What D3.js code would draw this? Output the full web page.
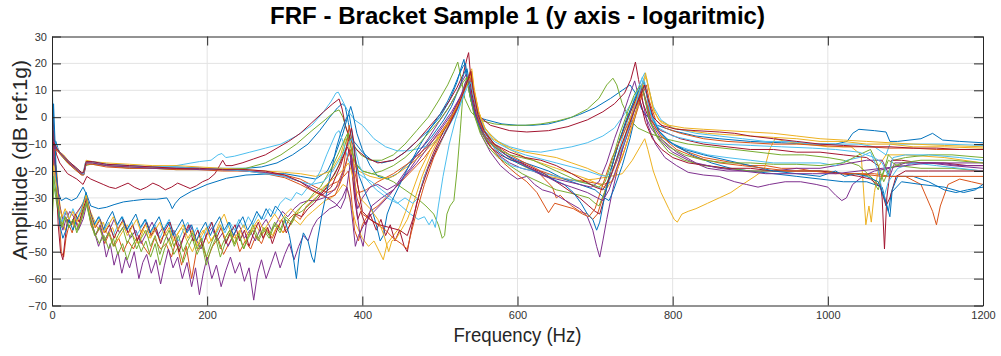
<!DOCTYPE html>
<html>
<head>
<meta charset="utf-8">
<script src="https://cdn.jsdelivr.net/npm/d3@7/dist/d3.min.js"></script>
<style>
  body { margin: 0; background: #fff; }
  text { font-family: "Liberation Sans", Arial, Helvetica, sans-serif; }
</style>
</head>
<body>
<svg id="chart" width="1001" height="356"></svg>
<script>
// axis ticks
const xTicks = [0, 200, 400, 600, 800, 1000, 1200];
const yTicks = [-70, -60, -50, -40, -30, -20, -10, 0, 10, 20, 30];

// matlab default colour order
const lineColors = ['#0072BD', '#D95319', '#EDB120', '#7E2F8E', '#77AC30', '#4DBEEE', '#A2142F'];

// FRF curves, [frequency Hz, amplitude dB]
const c01 = [[0,-30],[2,-10],[5,-9],[8,-12],[12,-14],[18,-16],[26,-18],[34,-20],[40,-21],[43,-17],[50,-16.5],[70,-17.5],[100,-18],[130,-18.5],[160,-18.5],[190,-19],[220,-19],[250,-19],[270,-18.5],[290,-17],[310,-14],[330,-10],[345,-5],[358,0],[368,3.5],[374,5],[378,4],[382,-2],[386,-8],[392,-10],[400,-13],[412,-16],[425,-17],[440,-16],[455,-13],[470,-9],[485,-5],[500,0],[512,6],[522,13],[528,19],[531,21.5],[534,15],[540,6],[548,0],[560,-1],[580,-2.5],[600,-3],[620,-3],[640,-2.5],[660,-1],[680,1],[700,3.5],[720,7],[735,10],[745,12],[752,9],[760,3],[768,0],[780,-3],[800,-5],[830,-7],[860,-8],[900,-9],[940,-9.5],[980,-10],[1010,-10],[1025,-9],[1032,-6],[1040,-4.5],[1060,-5],[1075,-5.5],[1080,-9],[1090,-9],[1120,-8],[1135,-6],[1148,-8.5],[1170,-9],[1200,-9.5]];
const c02 = [[0,-25],[3,-15],[6,-20],[9,-35],[12,-50],[15,-52],[18,-45],[22,-40],[26,-43],[30,-38],[35,-41],[40,-36],[45,-30],[50,-40],[56,-44],[62,-41],[68,-47],[74,-43],[80,-48],[86,-45],[92,-50],[98,-46],[105,-49],[112,-44],[118,-48],[125,-51],[132,-45],[140,-49],[147,-47],[154,-52],[160,-46],[167,-55],[173,-48],[180,-60],[186,-50],[193,-47],[200,-53],[207,-48],[214,-45],[221,-51],[228,-47],[235,-43],[242,-50],[249,-46],[256,-49],[263,-44],[270,-47],[277,-42],[284,-45],[291,-40],[298,-43],[305,-38],[312,-36],[320,-38],[328,-33],[336,-31],[344,-29],[352,-27],[360,-25],[368,-24],[376,-22],[382,-20],[386,-30],[390,-42],[395,-46],[400,-40],[410,-35],[420,-33],[430,-30],[440,-27],[450,-24],[460,-21],[470,-18],[480,-15],[490,-11],[500,-7],[510,-3],[520,2],[528,7],[534,12],[538,16],[540,17],[543,10],[548,2],[555,-4],[565,-9],[575,-12],[585,-14],[595,-16],[605,-17],[615,-19],[625,-20],[635,-23],[645,-26],[650,-30],[655,-29],[662,-31],[670,-33],[680,-35],[690,-36],[697,-38],[703,-36],[710,-30],[720,-22],[730,-15],[740,-8],[750,0],[758,7],[763,12],[766,10],[770,2],[778,-4],[790,-8],[805,-11],[820,-13],[840,-15],[860,-16],[880,-17],[900,-18],[920,-18],[940,-19],[960,-19],[980,-20],[1000,-20],[1020,-21],[1040,-21],[1060,-21],[1080,-22],[1100,-22],[1120,-25],[1135,-35],[1140,-40],[1145,-33],[1155,-25],[1170,-23],[1185,-24],[1200,-25]];
const c03 = [[0,-25],[2,-15],[5,-18],[9,-30],[13,-38],[17,-42],[22,-38],[27,-40],[32,-36],[38,-33],[44,-29],[48,-34],[54,-38],[60,-42],[66,-39],[72,-44],[78,-41],[84,-46],[90,-43],[97,-40],[104,-44],[111,-47],[118,-42],[125,-45],[132,-41],[139,-46],[146,-43],[153,-48],[160,-44],[167,-41],[174,-46],[181,-50],[188,-45],[195,-42],[202,-47],[209,-44],[216,-39],[222,-36],[228,-41],[235,-45],[242,-42],[249,-46],[256,-43],[263,-40],[270,-44],[277,-41],[284,-44],[291,-40],[298,-43],[305,-41],[312,-38],[320,-40],[328,-37],[336,-35],[344,-33],[352,-31],[360,-30],[368,-28],[375,-25],[380,-26],[385,-32],[392,-40],[400,-45],[408,-48],[415,-46],[422,-50],[427,-53],[432,-47],[440,-44],[448,-41],[456,-35],[464,-28],[474,-20],[486,-13],[498,-7],[510,-2],[522,4],[532,11],[538,16],[541,18],[544,11],[550,2],[558,-5],[570,-10],[585,-14],[600,-17],[620,-20],[640,-22],[660,-23],[680,-23.5],[700,-23],[720,-22],[735,-21],[748,-16],[758,-11],[764,-8],[768,-12],[775,-20],[785,-28],[795,-34],[802,-38],[806,-39],[812,-36],[820,-35],[830,-34],[845,-32],[860,-30],[875,-28],[890,-25],[906,-22],[918,-19.5],[925,-12],[932,-8],[945,-9],[970,-10],[1000,-11],[1030,-11],[1043,-14],[1049,-40],[1053,-33],[1056,-39],[1060,-28],[1066,-18],[1075,-14],[1100,-14],[1150,-15],[1200,-17]];
const c04 = [[0,-35],[3,-20],[6,-25],[10,-38],[14,-42],[18,-38],[23,-35],[28,-37],[33,-35],[38,-33],[44,-30],[48,-36],[54,-42],[60,-48],[65,-44],[70,-52],[75,-47],[80,-55],[85,-50],[90,-58],[95,-52],[100,-56],[106,-50],[112,-60],[117,-54],[122,-51],[128,-58],[134,-53],[140,-62],[145,-55],[150,-49],[156,-56],[162,-52],[168,-60],[174,-54],[180,-63],[185,-56],[190,-66],[195,-58],[200,-52],[206,-60],[212,-55],[218,-63],[224,-57],[230,-52],[236,-58],[242,-54],[248,-61],[254,-56],[260,-68],[265,-58],[270,-53],[276,-60],[282,-55],[288,-50],[294,-56],[300,-51],[306,-47],[312,-53],[318,-48],[324,-44],[330,-46],[336,-41],[342,-38],[350,-36],[358,-34],[366,-33],[374,-30],[380,-26],[384,-30],[388,-40],[391,-48],[395,-44],[402,-40],[412,-36],[422,-33],[435,-29],[448,-24],[462,-19],[476,-13],[490,-8],[503,-3],[515,2],[525,7],[532,11],[536,14],[540,8],[546,0],[554,-7],[565,-13],[578,-18],[590,-21],[600,-23],[612,-22],[622,-25],[632,-27],[644,-28],[656,-30],[668,-32],[680,-34],[690,-37],[697,-42],[702,-48],[706,-52],[710,-46],[715,-38],[722,-28],[730,-18],[740,-6],[748,2],[754,8],[758,10],[762,5],[768,-3],[778,-10],[790,-15],[805,-18],[820,-20.5],[840,-21.5],[860,-22],[880,-24],[895,-25],[910,-26],[925,-25],[945,-24],[965,-24],[985,-25],[1000,-26],[1010,-29],[1018,-31],[1024,-30],[1032,-25],[1045,-22],[1060,-20],[1080,-19],[1100,-17],[1130,-17],[1160,-18],[1200,-19]];
const c05 = [[0,-40],[2,-20],[5,-12],[9,-13],[14,-15],[20,-17],[28,-19],[36,-21],[40,-21.5],[43,-18],[50,-17.5],[70,-18],[100,-19],[130,-19],[160,-19.5],[190,-19.5],[220,-19.5],[250,-19],[275,-17],[295,-14],[315,-10],[335,-5],[352,-1],[364,2],[370,2.7],[375,0],[380,-5],[388,-10],[398,-14],[410,-16],[425,-16],[440,-14],[455,-10],[470,-5],[485,0],[498,6],[510,12],[518,17],[523,20.5],[527,15],[532,7],[540,2],[550,-1],[570,-2.5],[590,-3],[610,-3],[630,-2.5],[650,-1.5],[670,0],[690,3],[705,7],[715,12],[723,14.5],[728,12],[735,5],[745,-1],[755,-4],[770,-6],[790,-8],[820,-10],[850,-11],[880,-12],[910,-13],[940,-14],[970,-14],[1000,-15],[1020,-16],[1040,-18],[1055,-22],[1065,-25],[1072,-20],[1078,-14],[1085,-16],[1100,-15],[1130,-14],[1160,-14],[1200,-15]];
const c06 = [[0,17],[1,5],[3,-8],[6,-11],[10,-13],[15,-15],[22,-17],[30,-19],[38,-21],[41,-21.5],[44,-17],[52,-17],[70,-18],[100,-18.5],[130,-19],[150,-18.5],[170,-17.5],[190,-16.5],[205,-16],[214,-14],[219,-13.5],[224,-15],[235,-14.5],[255,-13],[275,-11.5],[295,-10],[315,-7],[335,-3],[350,2],[360,6],[366,9],[369,9.3],[373,7],[380,3],[390,-1],[400,-3],[415,-8],[430,-11],[445,-12.5],[460,-12.5],[475,-11.5],[490,-10],[505,-6],[518,0],[528,7],[535,13],[540,15],[544,8],[550,0],[560,-5],[575,-9],[590,-11],[610,-12.5],[630,-13],[650,-12],[670,-11],[690,-9.5],[710,-7],[725,-4],[740,2],[752,8],[760,14],[764,16.5],[768,12],[775,4],[785,-1],[800,-4],[830,-6],[860,-7],[890,-8],[920,-9],[950,-9],[980,-10],[1010,-10],[1040,-10],[1060,-11],[1075,-14],[1080,-10],[1090,-10],[1120,-10],[1150,-10],[1200,-10.5]];
const c07 = [[0,-30],[1,3],[3,-10],[6,-14],[10,-17],[15,-19],[20,-21],[26,-22],[32,-23],[40,-25],[45,-22],[50,-23],[58,-24],[66,-25],[74,-26],[82,-26.5],[90,-25.5],[98,-24.5],[106,-26],[114,-27],[122,-26],[130,-24.5],[138,-25.5],[146,-27],[154,-26],[162,-24.5],[170,-25.5],[178,-26.5],[186,-25.5],[194,-24],[202,-23],[210,-21],[216,-18],[220,-16],[224,-18],[232,-18],[245,-17],[260,-15.5],[275,-14],[290,-11.5],[305,-9],[320,-6],[335,-2],[350,2],[362,5],[370,6.8],[374,3],[378,-3],[384,-8],[392,-12],[405,-15],[420,-17],[440,-16],[455,-13],[470,-9],[485,-4],[500,1],[512,6],[522,11],[530,16],[535,22],[537,24],[540,14],[545,5],[552,0],[565,-3],[590,-5],[612,-5.5],[640,-5],[665,-3.5],[690,-1],[710,2],[725,5],[738,9],[746,14],[752,20.5],[756,14],[762,5],[770,-1],[785,-5],[810,-8],[840,-10],[870,-11],[900,-12],[930,-12],[960,-13],[990,-13],[1020,-14],[1050,-15],[1065,-18],[1070,-30],[1073,-49],[1076,-30],[1082,-16],[1095,-16],[1120,-17],[1150,-17],[1180,-18],[1200,-18]];
const c08 = [[0,-15],[2,-8],[5,-20],[8,-28],[12,-31],[18,-30],[25,-31],[32,-30],[40,-26],[45,-29],[50,-33],[60,-34],[70,-33.5],[80,-32.5],[92,-31.5],[105,-31],[120,-30.5],[135,-30.5],[148,-30],[152,-32],[155,-34],[159,-32],[165,-30],[180,-27.5],[200,-25],[225,-22.7],[250,-21.5],[285,-21],[300,-21],[320,-22],[340,-23],[355,-20],[365,-14],[375,-6],[382,1],[385,4],[388,1],[393,-6],[400,-12],[410,-18],[420,-22],[432,-23],[445,-21],[460,-17],[475,-12],[490,-7],[505,-1],[515,4],[525,11],[532,17],[535,18],[539,11],[545,2],[555,-5],[570,-10],[585,-14],[600,-16],[620,-18],[640,-20],[660,-23],[680,-25],[700,-27],[712,-30],[718,-31],[724,-27],[735,-18],[745,-8],[753,2],[759,10],[762,13.5],[766,9],[772,1],[782,-5],[800,-10],[825,-14],[850,-17],[875,-19],[900,-20],[930,-21],[960,-22],[990,-23],[1020,-24],[1050,-24],[1070,-26],[1078,-35],[1082,-28],[1095,-24],[1120,-25],[1150,-26],[1175,-28],[1190,-27],[1200,-25]];
const c09 = [[0,-20],[3,-12],[7,-12],[11,-13.5],[16,-15],[22,-17],[30,-19],[38,-21],[41,-21],[44,-17],[52,-17],[70,-18],[100,-18.5],[130,-18.5],[160,-19],[190,-19],[220,-19.5],[250,-20],[275,-20.5],[300,-21.5],[320,-23],[340,-26],[355,-28],[365,-27],[375,-20],[380,-10],[383,-3],[386,-8],[390,-20],[396,-28],[405,-27],[420,-24],[440,-21],[460,-17],[480,-12],[500,-6],[515,0],[527,7],[535,12],[540,16],[543,10],[548,2],[556,-5],[570,-10],[590,-14],[610,-17],[630,-20],[650,-22],[670,-23.5],[690,-24],[710,-25],[722,-24],[735,-15],[746,-5],[756,4],[762,9],[766,12],[770,6],[778,-1],[790,-4],[810,-6],[840,-8],[870,-9],[900,-9.5],[930,-10],[960,-10],[990,-10.5],[1020,-11],[1050,-11],[1080,-11.5],[1110,-11.5],[1140,-12],[1170,-12],[1200,-12]];
const c10 = [[0,-20],[2,-10],[6,-11],[10,-13],[15,-14],[22,-16.5],[30,-18.5],[38,-20.5],[41,-20.5],[44,-16],[52,-16.5],[70,-17],[100,-17.5],[130,-18],[160,-18],[190,-18.5],[220,-19],[250,-19.5],[275,-20],[300,-20.5],[320,-21],[340,-22],[360,-20],[372,-14],[378,-8],[382,-10],[388,-17],[395,-20],[410,-22],[425,-23],[440,-22],[460,-18],[480,-13],[500,-7],[515,-1],[527,6],[536,13],[541,17],[544,10],[550,2],[558,-4],[570,-8],[590,-12],[610,-15],[630,-17],[650,-19],[670,-21],[690,-23],[705,-25],[715,-26.5],[725,-22],[738,-12],[750,-1],[758,8],[763,14],[765,16.5],[768,12],[774,4],[782,-1],[795,-3],[815,-4],[840,-4.5],[870,-5],[900,-5.5],[930,-6],[960,-7],[990,-8],[1020,-8.5],[1050,-9],[1080,-9.5],[1110,-10],[1150,-10.5],[1200,-11]];
const c11 = [[0,-30],[3,-15],[6,-22],[10,-33],[14,-38],[19,-35],[24,-40],[29,-37],[34,-42],[40,-38],[45,-32],[50,-38],[56,-44],[62,-40],[68,-46],[74,-42],[80,-38],[87,-43],[94,-40],[101,-45],[108,-42],[115,-47],[122,-43],[129,-39],[136,-44],[143,-41],[150,-46],[157,-42],[164,-48],[171,-44],[178,-40],[185,-45],[192,-49],[199,-44],[206,-41],[213,-46],[220,-43],[227,-48],[234,-44],[241,-40],[248,-45],[255,-42],[262,-46],[269,-41],[276,-38],[283,-42],[290,-39],[297,-35],[304,-37],[312,-34],[320,-32],[330,-31],[340,-31],[350,-30],[360,-28],[370,-25],[378,-18],[383,-12],[386,-16],[390,-28],[394,-34],[400,-30],[410,-26],[420,-25],[432,-27],[444,-25],[456,-20],[470,-14],[485,-8],[498,-2],[510,3],[520,8],[528,13],[534,16],[538,10],[544,2],[552,-5],[562,-10],[575,-14],[590,-17],[605,-19],[620,-20],[635,-22],[650,-23],[665,-24],[680,-25],[695,-26],[705,-24],[715,-17],[725,-8],[735,0],[743,7],[748,11],[751,13.5],[755,9],[762,2],[772,-4],[785,-9],[800,-13],[820,-16],[845,-19],[870,-20],[900,-20],[930,-20],[960,-19],[990,-19],[1010,-18],[1030,-17],[1050,-16],[1070,-16],[1080,-22],[1086,-17],[1100,-17],[1140,-17],[1170,-18],[1200,-18]];
const c12 = [[0,-40],[2,-25],[5,-30],[9,-38],[13,-41],[17,-37],[22,-41],[27,-38],[32,-42],[38,-37],[44,-31],[49,-38],[55,-43],[61,-47],[67,-44],[73,-49],[79,-45],[85,-51],[91,-47],[97,-53],[103,-48],[109,-45],[115,-50],[121,-46],[127,-52],[133,-47],[139,-55],[145,-49],[151,-45],[157,-51],[163,-48],[169,-54],[175,-49],[181,-45],[187,-51],[193,-47],[199,-55],[205,-49],[211,-45],[217,-52],[223,-47],[229,-43],[235,-48],[241,-44],[247,-49],[253,-45],[259,-42],[266,-46],[273,-42],[280,-45],[287,-40],[294,-43],[301,-38],[308,-40],[315,-36],[322,-35],[330,-33],[338,-31],[346,-28],[355,-25],[365,-21],[372,-16],[378,-10],[382,-6],[386,-12],[392,-18],[400,-20],[412,-21],[425,-22],[440,-24],[455,-27],[470,-30],[482,-33],[492,-36],[498,-40],[503,-45],[506,-44],[509,-36],[513,-33],[518,-31],[522,-20],[526,-6],[529,6],[532,12],[535,15],[538,9],[544,1],[552,-6],[562,-11],[575,-15],[590,-18],[606,-21],[620,-23],[635,-25],[650,-27],[665,-28],[680,-29],[692,-30],[700,-32],[705,-33],[712,-28],[722,-18],[732,-8],[742,0],[750,6],[757,10],[761,11],[765,6],[771,-2],[781,-8],[795,-13],[815,-16],[840,-18],[870,-19],[900,-20],[930,-20],[960,-20],[990,-20],[1020,-21],[1040,-21],[1055,-22],[1065,-27],[1070,-22],[1078,-16],[1090,-18],[1120,-19],[1160,-19],[1200,-20]];
const c13 = [[0,-35],[2,-20],[5,-28],[9,-36],[13,-39],[17,-35],[22,-38],[27,-34],[32,-38],[38,-34],[44,-28],[49,-35],[55,-40],[61,-37],[67,-42],[73,-39],[79,-44],[85,-40],[91,-37],[97,-42],[103,-39],[109,-44],[115,-41],[121,-38],[127,-43],[133,-40],[139,-45],[145,-41],[151,-38],[157,-43],[163,-46],[169,-42],[175,-39],[181,-44],[187,-41],[193,-46],[199,-42],[205,-39],[211,-44],[217,-40],[223,-43],[229,-39],[235,-42],[241,-38],[247,-41],[253,-37],[259,-40],[266,-36],[273,-38],[280,-34],[287,-36],[294,-32],[301,-30],[308,-31],[315,-28],[322,-29],[330,-26],[338,-24],[346,-20],[354,-14],[360,-10],[366,-6],[370,-5],[375,-9],[382,-16],[390,-20],[400,-22],[412,-24],[425,-27],[438,-30],[450,-33],[462,-36],[472,-38],[480,-37],[486,-40],[490,-38],[494,-41],[498,-33],[504,-22],[512,-10],[520,-1],[528,6],[534,12],[538,15],[541,9],[547,1],[555,-6],[565,-11],[578,-15],[592,-18],[606,-19],[620,-20],[635,-21],[650,-22],[665,-23],[680,-24],[695,-25],[705,-26],[713,-27],[718,-24],[728,-15],[738,-5],[748,4],[756,11],[761,15],[764,13],[768,6],[774,-1],[784,-6],[800,-10],[820,-12],[845,-14],[870,-15],[900,-16],[930,-17],[960,-17],[990,-17],[1010,-18],[1025,-16],[1040,-15],[1055,-13],[1065,-20],[1072,-30],[1078,-24],[1090,-19],[1110,-17],[1140,-18],[1170,-19],[1200,-20]];
const c14 = [[0,-30],[2,-5],[5,-20],[8,-40],[11,-50],[14,-53],[17,-45],[20,-38],[25,-40],[30,-36],[35,-39],[40,-34],[45,-30],[50,-36],[56,-41],[62,-38],[68,-43],[74,-40],[80,-45],[86,-41],[92,-38],[98,-43],[104,-40],[110,-46],[116,-42],[122,-39],[128,-44],[134,-41],[140,-47],[146,-42],[152,-39],[158,-45],[164,-50],[170,-44],[176,-40],[182,-46],[188,-42],[194,-48],[200,-43],[206,-39],[212,-45],[218,-41],[224,-47],[230,-43],[236,-40],[242,-46],[248,-42],[254,-48],[260,-43],[266,-39],[272,-45],[278,-41],[284,-47],[290,-42],[296,-38],[302,-43],[308,-39],[314,-36],[322,-37],[330,-34],[338,-32],[346,-29],[354,-26],[362,-22],[370,-18],[376,-14],[381,-11],[385,-15],[390,-30],[394,-38],[398,-35],[404,-40],[410,-36],[418,-42],[424,-38],[430,-44],[436,-40],[442,-46],[448,-42],[454,-48],[458,-50],[463,-42],[470,-32],[480,-22],[492,-13],[505,-5],[518,2],[528,8],[534,12],[538,15],[541,9],[547,1],[555,-6],[565,-11],[578,-14],[592,-16],[606,-17],[620,-19],[635,-21],[650,-24],[665,-27],[680,-30],[692,-33],[700,-35],[706,-36],[712,-30],[720,-20],[730,-10],[740,-2],[750,5],[755,8],[759,5],[765,-2],[774,-8],[786,-12],[800,-15],[820,-17],[845,-18],[870,-19],[900,-19],[930,-20],[960,-20],[990,-20],[1020,-21],[1040,-22],[1055,-23],[1068,-26],[1075,-33],[1080,-30],[1088,-22],[1100,-20],[1130,-20],[1160,-20],[1200,-20]];
const c15 = [[0,-20],[2,5],[4,-10],[7,-30],[10,-40],[14,-45],[18,-42],[22,-38],[27,-42],[32,-38],[38,-35],[44,-28],[48,-35],[54,-40],[60,-37],[66,-42],[72,-38],[78,-35],[84,-40],[90,-37],[96,-42],[102,-39],[108,-36],[114,-41],[120,-38],[126,-43],[132,-40],[138,-37],[144,-42],[150,-39],[156,-44],[162,-41],[168,-38],[174,-43],[180,-40],[186,-46],[192,-42],[198,-39],[204,-44],[210,-40],[216,-37],[222,-42],[228,-39],[234,-44],[240,-40],[246,-37],[252,-42],[258,-39],[264,-35],[270,-38],[276,-34],[282,-37],[288,-33],[294,-35],[300,-38],[306,-44],[311,-52],[315,-60],[319,-50],[324,-43],[330,-46],[335,-52],[338,-54],[342,-46],[348,-36],[354,-28],[360,-20],[366,-12],[372,-6],[377,-2],[380,0],[383,1],[386,-4],[390,-14],[396,-22],[404,-28],[412,-34],[418,-40],[423,-46],[427,-44],[432,-36],[440,-30],[450,-24],[462,-17],[475,-10],[488,-4],[500,1],[510,6],[518,11],[525,16],[530,19],[533,20],[536,13],[542,4],[550,-3],[560,-8],[572,-12],[585,-15],[600,-17],[615,-19],[630,-21],[645,-23],[660,-25],[672,-28],[682,-32],[690,-36],[697,-38],[702,-42],[706,-39],[712,-30],[720,-20],[730,-10],[740,-1],[750,6],[758,11],[763,13],[767,8],[773,1],[782,-5],[795,-9],[815,-12],[840,-14],[870,-16],[900,-18],[930,-20],[960,-21],[990,-22],[1010,-20],[1022,-22],[1035,-21],[1050,-22],[1065,-24],[1075,-32],[1080,-37],[1083,-27],[1090,-22],[1110,-22],[1130,-24],[1150,-27],[1165,-28],[1180,-27],[1200,-26]];
const c16 = [[0,-25],[3,-12],[7,-12.5],[11,-14],[16,-15.5],[22,-17.5],[30,-19.5],[38,-21.5],[41,-21.5],[44,-17.5],[52,-17.5],[70,-18.5],[100,-19],[130,-19],[160,-19.5],[190,-19.5],[220,-20],[250,-20],[275,-21],[300,-22.5],[320,-25],[340,-28],[355,-30],[365,-29],[375,-22],[381,-15],[385,-12],[388,-18],[393,-30],[400,-36],[410,-38],[420,-40],[430,-42],[440,-45],[450,-47],[458,-49],[463,-43],[470,-35],[480,-25],[492,-15],[505,-7],[518,1],[528,8],[535,13],[539,17],[542,10],[548,1],[556,-6],[568,-12],[582,-17],[598,-21],[612,-24],[625,-28],[635,-33],[640,-35.5],[648,-32],[660,-33],[672,-34],[684,-36],[692,-37],[700,-34],[710,-25],[722,-15],[735,-7],[748,1],[756,6],[762,10],[766,6],[772,-1],[785,-7],[805,-12],[830,-15],[860,-17],[890,-18],[920,-19],[950,-20],[980,-20],[1010,-21],[1040,-21],[1070,-22],[1100,-22],[1130,-22],[1160,-22],[1200,-22]];
const c17 = [[0,-30],[2,-18],[5,-24],[9,-33],[13,-37],[17,-34],[22,-38],[27,-35],[32,-39],[38,-35],[44,-29],[49,-36],[55,-41],[61,-38],[67,-43],[73,-40],[79,-37],[85,-42],[91,-39],[97,-44],[103,-41],[109,-38],[115,-43],[121,-40],[127,-45],[133,-42],[139,-39],[145,-44],[151,-41],[157,-46],[163,-43],[169,-40],[175,-45],[181,-42],[187,-48],[193,-44],[199,-41],[205,-46],[211,-43],[217,-40],[223,-45],[229,-42],[235,-47],[241,-43],[247,-40],[253,-44],[259,-41],[266,-38],[273,-42],[280,-39],[287,-36],[294,-39],[301,-36],[308,-34],[315,-36],[322,-33],[330,-31],[338,-29],[346,-27],[354,-25],[362,-23],[370,-21],[377,-19],[382,-17],[386,-20],[392,-27],[400,-31],[410,-34],[420,-38],[428,-44],[434,-50],[438,-46],[444,-45],[450,-42],[458,-38],[467,-31],[477,-22],[488,-14],[500,-7],[512,-1],[524,5],[533,11],[538,14],[541,16],[544,10],[550,2],[558,-4],[568,-8],[580,-10],[595,-12],[610,-13],[630,-14],[650,-15],[670,-17],[690,-19],[705,-21],[715,-22],[724,-19],[735,-10],[746,0],[755,8],[762,13],[766,15],[770,10],[776,2],[785,-2],[800,-4],[820,-5],[845,-6],[870,-6.5],[900,-7],[930,-7.5],[960,-8],[990,-9],[1020,-9],[1050,-10],[1080,-10],[1110,-11],[1150,-11],[1200,-11.5]];
const c18 = [[0,-20],[3,-11],[7,-12],[11,-13.5],[16,-15],[22,-17],[30,-19],[38,-21],[41,-21],[44,-17],[52,-17],[70,-18],[100,-18.5],[130,-19],[160,-19],[190,-19.5],[220,-19.5],[250,-20],[275,-20.5],[300,-22],[320,-24],[340,-27],[355,-30],[365,-32],[372,-34],[378,-30],[383,-20],[386,-14],[389,-22],[393,-35],[397,-44],[401,-48],[405,-40],[412,-33],[425,-30],[440,-27],[455,-22],[470,-17],[485,-11],[500,-5],[515,1],[527,8],[533,13],[536,14],[540,8],[547,0],[556,-6],[570,-11],[590,-15],[610,-18],[630,-21],[650,-24],[670,-26],[690,-28],[703,-30],[710,-31],[718,-27],[730,-17],[742,-6],[752,4],[758,9],[761,11],[765,6],[772,-2],[785,-8],[805,-13],[830,-17],[860,-19],[890,-20],[920,-21],[950,-21],[980,-21],[1010,-21],[1040,-20],[1070,-19],[1100,-18],[1130,-17],[1160,-17],[1200,-17]];
const c19 = [[0,-45],[2,-22],[5,-28],[9,-36],[13,-40],[17,-37],[22,-41],[27,-38],[32,-43],[38,-38],[44,-32],[49,-38],[55,-44],[61,-41],[67,-46],[73,-43],[79,-48],[85,-44],[91,-41],[97,-47],[103,-43],[109,-49],[115,-45],[121,-42],[127,-48],[133,-44],[139,-51],[145,-46],[151,-42],[157,-48],[163,-44],[169,-50],[175,-46],[181,-43],[187,-49],[193,-45],[199,-52],[205,-47],[211,-43],[217,-49],[223,-45],[229,-42],[235,-47],[241,-43],[247,-49],[253,-44],[259,-40],[266,-45],[273,-41],[280,-44],[287,-39],[294,-42],[301,-37],[308,-39],[315,-35],[322,-33],[330,-31],[338,-28],[346,-26],[354,-22],[362,-18],[370,-13],[376,-9],[381,-6],[385,-11],[391,-17],[400,-20],[412,-21],[425,-20],[440,-18],[455,-15],[470,-11],[485,-6],[500,-1],[512,4],[522,9],[530,13],[535,15],[538,9],[544,1],[552,-5],[562,-9],[575,-12],[590,-14],[605,-15],[620,-16],[635,-18],[650,-20],[665,-22],[680,-24],[695,-25],[705,-26],[713,-24],[722,-16],[732,-6],[742,2],[750,8],[756,11],[760,12],[764,7],[770,-1],[780,-7],[795,-11],[815,-14],[840,-16],[870,-17],[900,-17],[930,-17.5],[960,-17.5],[990,-18],[1020,-17],[1040,-14],[1055,-12],[1065,-18],[1072,-24],[1080,-19],[1095,-17],[1120,-16],[1160,-16],[1200,-17]];
const c20 = [[0,-10],[2,-9],[6,-11],[10,-13],[15,-14.5],[22,-16.5],[30,-18.5],[38,-20.5],[41,-21],[44,-16.5],[52,-16.5],[70,-17.5],[100,-18],[130,-18.5],[160,-18.5],[190,-19],[220,-19.5],[250,-20],[275,-21],[300,-22],[320,-24],[335,-25],[350,-24],[362,-20],[372,-15],[380,-11],[386,-8],[390,-11],[396,-18],[405,-23],[418,-27],[432,-30],[445,-32],[455,-30],[465,-32],[472,-30],[480,-22],[492,-14],[505,-7],[518,0],[528,6],[535,11],[540,13],[544,7],[550,0],[558,-5],[570,-9],[590,-12],[610,-14],[630,-15.5],[650,-17],[670,-18.5],[690,-20],[705,-21.5],[715,-22],[725,-18],[738,-9],[750,2],[757,9],[762,14],[766,9],[772,1],[782,-4],[800,-7],[830,-9],[860,-10],[900,-10.5],[940,-11],[980,-11.5],[1010,-12],[1040,-13],[1060,-15],[1070,-17],[1078,-22],[1084,-15],[1100,-14],[1130,-14],[1170,-15],[1200,-16]];
const c21 = [[0,-15],[2,-9],[6,-11.5],[10,-13],[15,-14.5],[22,-16.5],[30,-18.5],[38,-20.5],[41,-20.5],[44,-16.5],[52,-16.5],[70,-17.5],[100,-18],[130,-18.5],[160,-19],[190,-19],[220,-19.5],[250,-19.5],[275,-20],[300,-21.5],[320,-24],[335,-27],[348,-29],[360,-26],[372,-18],[382,-9],[386,-4],[389,-9],[394,-25],[400,-35],[410,-38],[422,-40],[435,-41],[448,-42],[458,-44],[465,-38],[474,-28],[485,-19],[497,-11],[510,-4],[522,3],[530,9],[536,14],[540,17],[543,10],[549,1],[557,-5],[570,-10],[590,-13],[610,-15],[630,-16],[650,-18],[670,-21],[688,-24],[700,-26],[710,-27],[720,-22],[732,-12],[745,-2],[755,6],[761,10],[764,12],[768,7],[775,0],[785,-3],[805,-4.5],[830,-5],[860,-5.5],[880,-6],[900,-7],[930,-8],[960,-9],[990,-10],[1020,-10.5],[1050,-11],[1080,-11],[1110,-11.5],[1140,-11.5],[1170,-12],[1200,-12]];

const curves = [c01, c02, c03, c04, c05, c06, c07, c08, c09, c10, c11, c12, c13, c14, c15, c16, c17, c18, c19, c20, c21];

const svg = d3.select('#chart');
const plot = { left: 52, right: 983, top: 36.5, bottom: 305.5 };
const axisColor = '#262626';

const x = d3.scaleLinear().domain([0, 1200]).range([plot.left, plot.right]);
const y = d3.scaleLinear().domain([-70, 30]).range([plot.bottom, plot.top]);

svg.append('rect').attr('width', 1001).attr('height', 356).attr('fill', '#fff');

svg.append('defs').append('clipPath').attr('id', 'plot-clip')
  .append('rect')
  .attr('x', plot.left).attr('y', plot.top)
  .attr('width', plot.right - plot.left).attr('height', plot.bottom - plot.top);

// grid, behind the data
const grid = svg.append('g').attr('stroke', '#e3e3e3').attr('stroke-width', 1);
grid.selectAll('.gx').data(xTicks.slice(1, -1)).enter().append('line')
  .attr('x1', d => x(d)).attr('x2', d => x(d))
  .attr('y1', plot.top).attr('y2', plot.bottom);
grid.selectAll('.gy').data(yTicks.slice(1, -1)).enter().append('line')
  .attr('x1', plot.left).attr('x2', plot.right)
  .attr('y1', d => y(d)).attr('y2', d => y(d));

// curves
const line = d3.line()
  .x(d => x(d[0]))
  .y(d => y(d[1]));

svg.append('g').attr('clip-path', 'url(#plot-clip)')
  .selectAll('path')
  .data(curves)
  .enter()
  .append('path')
  .attr('d', line)
  .attr('fill', 'none')
  .attr('stroke', (d, i) => lineColors[i % lineColors.length])
  .attr('stroke-width', 1)
  .attr('stroke-linejoin', 'round');

// axes, ticks pointing inwards on all four sides
function styleAxis(g) {
  g.select('.domain').attr('stroke', axisColor).attr('stroke-width', 1);
  g.selectAll('.tick line').attr('stroke', axisColor);
  g.selectAll('.tick text')
    .attr('fill', '#333')
    .style('font-size', '11px')
    .style('font-family', '"Liberation Sans", Arial, sans-serif');
}

const plainNumber = d3.format('d');

svg.append('g')
  .attr('transform', `translate(0,${plot.bottom})`)
  .call(d3.axisBottom(x).tickValues(xTicks).tickFormat(plainNumber)
    .tickSizeInner(-9).tickSizeOuter(0).tickPadding(6))
  .call(styleAxis);

svg.append('g')
  .attr('transform', `translate(0,${plot.top})`)
  .call(d3.axisTop(x).tickValues(xTicks).tickSizeInner(-9).tickSizeOuter(0).tickFormat(''))
  .call(styleAxis);

svg.append('g')
  .attr('transform', `translate(${plot.left},0)`)
  .call(d3.axisLeft(y).tickValues(yTicks).tickFormat(plainNumber)
    .tickSizeInner(-9).tickSizeOuter(0).tickPadding(5))
  .call(styleAxis);

svg.append('g')
  .attr('transform', `translate(${plot.right},0)`)
  .call(d3.axisRight(y).tickValues(yTicks).tickSizeInner(-9).tickSizeOuter(0).tickFormat(''))
  .call(styleAxis);

// titles
svg.append('text')
  .attr('x', (plot.left + plot.right) / 2)
  .attr('y', 24)
  .attr('text-anchor', 'middle')
  .attr('font-weight', 'bold')
  .attr('font-size', 24)
  .attr('fill', '#000')
  .attr('textLength', 495)
  .attr('lengthAdjust', 'spacingAndGlyphs')
  .text('FRF - Bracket Sample 1 (y axis - logaritmic)');

svg.append('text')
  .attr('x', (plot.left + plot.right) / 2)
  .attr('y', 342)
  .attr('text-anchor', 'middle')
  .attr('font-size', 20)
  .attr('fill', '#262626')
  .attr('textLength', 128)
  .attr('lengthAdjust', 'spacingAndGlyphs')
  .text('Frequency (Hz)');

svg.append('text')
  .attr('transform', 'translate(27,160) rotate(-90)')
  .attr('text-anchor', 'middle')
  .attr('font-size', 20)
  .attr('fill', '#262626')
  .attr('textLength', 200)
  .attr('lengthAdjust', 'spacingAndGlyphs')
  .text('Amplitude (dB ref:1g)');
</script>
</body>
</html>
